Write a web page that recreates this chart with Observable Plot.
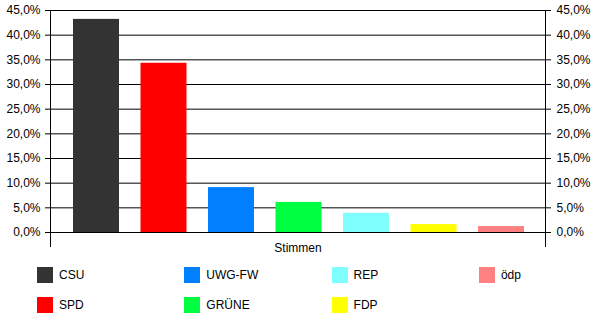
<!DOCTYPE html>
<html>
<head>
<meta charset="utf-8">
<script src="https://cdn.jsdelivr.net/npm/d3@7"></script>
<script src="https://cdn.jsdelivr.net/npm/@observablehq/plot@0.6"></script>
<style>
  html, body { margin: 0; padding: 0; background: #fff; }
  #wrap { position: relative; width: 600px; height: 326px; font-family: Arial, "Liberation Sans", sans-serif; font-size: 12px; }
  #chart svg { display: block; }
  #legend {
    position: absolute; left: 37px; top: 267px;
    display: grid; grid-template-columns: repeat(4, 147.3px);
    grid-template-rows: repeat(2, 30px); grid-auto-flow: column;
  }
  .item { display: flex; align-items: flex-start; height: 30px; }
  .sw { width: 16px; height: 16px; margin-right: 6px; flex: none; }
  .lb { line-height: 16px; color: #000; }
</style>
</head>
<body>
<div id="wrap">
  <div id="chart"></div>
  <div id="legend"></div>
</div>
<script>
const parties = ["CSU", "SPD", "UWG-FW", "GRÜNE", "REP", "FDP", "ödp"];
const values = [43.2, 34.3, 9.1, 6.1, 3.9, 1.6, 1.2];
const colors = ["#333333", "#ff0000", "#0080ff", "#00ff40", "#80ffff", "#ffff00", "#ff8080"];
const yTicks = [0, 5, 10, 15, 20, 25, 30, 35, 40, 45];
const categoryLabel = ["Stimmen"];

const data = parties.map((p, i) => ({party: p, value: values[i]}));
const de = d3.formatLocale({decimal: ",", thousands: ".", grouping: [3], currency: ["", " €"]});
const fmt = d => de.format(".1f")(d) + "%";

const chart = Plot.plot({
  width: 600,
  height: 256,
  marginTop: 10,
  marginBottom: 10,
  marginLeft: 50,
  marginRight: 55,
  style: {fontFamily: "Arial, 'Liberation Sans', sans-serif", fontSize: "12px", background: "#fff", color: "#000"},
  x: {type: "band", domain: parties, range: [73, 524], paddingInner: 0.3185, paddingOuter: 0, round: false, axis: null},
  y: {domain: [0, 45], range: [232, 10], axis: null, label: null},
  color: {domain: parties, range: colors},
  marks: [
    Plot.gridY(yTicks, {stroke: "#000", strokeOpacity: 1, strokeWidth: 1}),
    Plot.axisY(yTicks, {anchor: "left", label: null, tickSize: 5, tickPadding: 5, tickFormat: fmt, stroke: "#000", fill: "#000"}),
    Plot.axisY(yTicks, {anchor: "right", label: null, tickSize: 5, tickPadding: 6, tickFormat: fmt, stroke: "#000", fill: "#000"}),
    Plot.frame({anchor: "left", stroke: "#000"}),
    Plot.frame({anchor: "right", stroke: "#000"}),
    Plot.barY(data, {x: "party", y: "value", fill: "party"}),
    Plot.text(categoryLabel, {frameAnchor: "bottom", lineAnchor: "middle", dy: 2, fill: "#000"})
  ]
});
document.getElementById("chart").appendChild(chart);

const legend = d3.select("#legend");
const items = legend.selectAll(".item").data(parties).join("div").attr("class", "item");
items.append("div").attr("class", "sw").style("background", (d, i) => colors[i]);
items.append("div").attr("class", "lb").text(d => d);
</script>
</body>
</html>
